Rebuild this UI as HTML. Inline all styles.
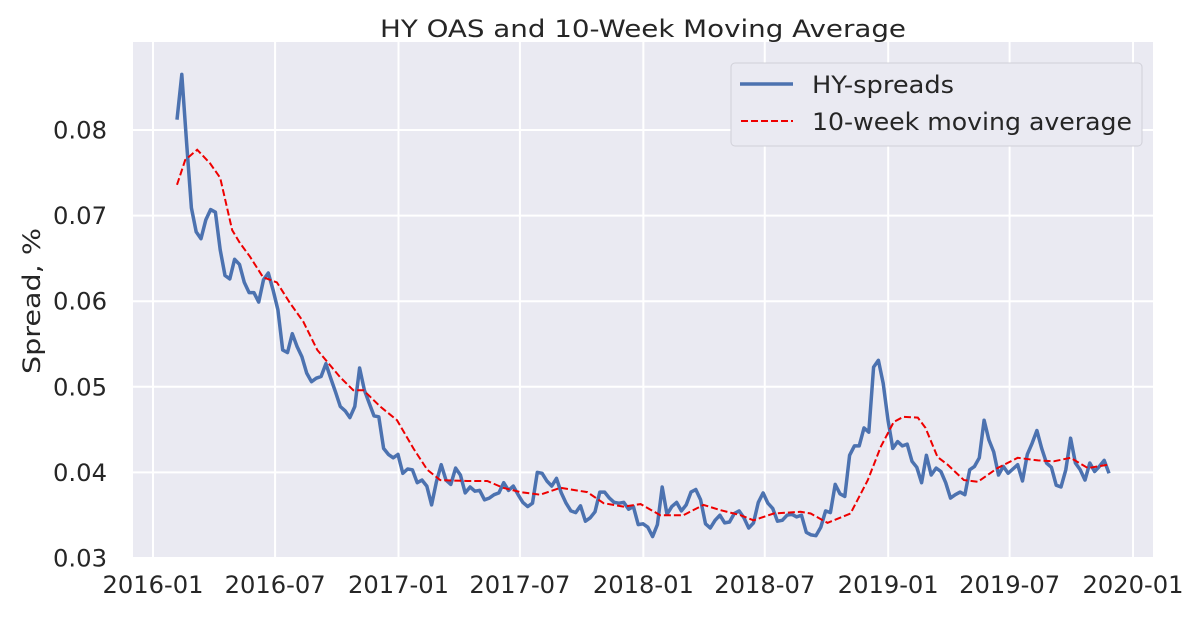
<!DOCTYPE html>
<html><head><meta charset="utf-8"><style>
body{margin:0;background:#fff}
svg text{font-family:"DejaVu Sans","Liberation Sans",sans-serif;fill:#262626}
</style></head><body>
<svg id="c" width="1200" height="624"></svg>
<script>
const hyValues=[0.0812,0.0865,0.0785,0.0709,0.0681,0.0673,0.0695,0.0707,0.0704,0.066,0.063,0.0626,0.0649,0.0643,0.0622,0.061,0.061,0.0599,0.0625,0.0633,0.0613,0.059,0.0543,0.054,0.0562,0.0547,0.0535,0.0516,0.0506,0.051,0.0512,0.0527,0.051,0.0494,0.0477,0.0472,0.0464,0.0477,0.0522,0.0496,0.0481,0.0466,0.0465,0.0428,0.0421,0.0417,0.0421,0.0399,0.0404,0.0403,0.0388,
0.0391,0.0384,0.0362,0.0389,0.0409,0.0391,0.0386,0.0405,0.0397,0.0376,0.0383,0.0378,0.0379,0.0368,0.037,0.0374,0.0376,0.0388,0.0379,0.0384,0.0374,0.0365,0.036,0.0364,0.040,0.0399,0.039,0.0384,0.0393,0.0376,0.0364,0.0355,0.0353,0.0361,0.0343,0.0347,0.0354,0.0377,0.0377,0.037,0.0365,0.0364,0.0365,0.0357,0.036,0.0339,0.034,0.0336,0.0325,0.0339,0.0383,0.0351,0.036,0.0365,0.0355,0.0362,0.0377,0.038,0.0368,0.034,0.0335,0.0344,0.035,0.0341,0.0342,0.0352,0.0355,0.0347,0.0335,0.0341,0.0365,0.0376,0.0364,0.0358,0.0343,0.0344,0.035,0.0351,0.0348,
0.035,0.033,0.0327,0.0326,0.0336,0.0355,0.0353,0.0386,0.0375,0.0372,0.042,0.0431,0.0431,0.0452,0.0447,0.0523,0.0531,0.0504,0.0461,0.0428,0.0436,0.0431,0.0433,0.0413,0.0406,0.0388,0.042,0.0397,0.0405,0.0401,0.0388,0.037,0.0374,0.0377,0.0374,0.0403,0.0407,0.0417,0.0461,0.0438,0.0424,0.0397,0.0407,0.0399,0.0404,0.0409,0.039,0.0421,0.0434,0.0449,0.0428,0.0411,0.0406,0.0385,0.0383,0.0403,0.044,0.0411,0.0403,0.0391,0.0411,0.0401,0.0407,0.0414,0.0399];
const maWeeks=[0,1.7,4.2,6.9,9,11.5,13.1,15.2,17.9,20.8,23.5,26.3,29.2,31.3,34,36.7,38.8,42.3,45.8,49.2,52.1,54.8,60.4,64.6,67.9,71.5,75.6,79.8,85.4,88.8,92.9,96.5,100.6,105.4,109.6,113.1,117.3,120,124.2,129.8,131.9,135.4,140.2,143.8,146.5,149.2,151.2,154.2,155.8,158.3,160.4,163.8,166.7,170.8,175,179.2,182.5,186,189.6,193.8];
const maValues=[0.0736,0.0765,0.0777,0.0761,0.0744,0.0683,0.0668,0.0652,0.0628,0.0622,0.0598,0.0576,0.0543,0.0529,0.0511,0.0496,0.0496,0.0477,0.0461,0.0428,0.0403,0.0391,0.039,0.039,0.0382,0.0377,0.0374,0.0382,0.0377,0.0364,0.036,0.0363,0.035,0.035,0.0362,0.0356,0.035,0.0344,0.0352,0.0354,0.0352,0.0341,0.0352,0.0391,0.043,0.0459,0.0465,0.0464,0.0452,0.0418,0.0409,0.0391,0.0389,0.0405,0.0417,0.0414,0.0413,0.0417,0.0405,0.0409];
const yTicks=[0.03,0.04,0.05,0.06,0.07,0.08];
const xTickLabels=["2016-01","2016-07","2017-01","2017-07","2018-01","2018-07","2019-01","2019-07","2020-01"];
const xTickDays=[0,182,366,547,731,912,1096,1277,1461];

const NS="http://www.w3.org/2000/svg",svg=document.getElementById('c');
function el(t,a,p){const e=document.createElementNS(NS,t);for(const k in a)e.setAttribute(k,a[k]);(p||svg).appendChild(e);return e;}
const L=133,R=1153,T=42,B=558;
const y=v=>558-(v-0.03)*8560;
const xd=d=>153+d*0.6708;
const nW=hyValues.length;
const xw=w=>177+w*(932/(nW-1));
let e=el('rect',{x:L,y:T,width:R-L,height:B-T,fill:'#eaeaf2'});

yTicks.forEach(v=>{
 e=el('line',{x1:L,x2:R,y1:y(v),y2:y(v),stroke:'#fff','stroke-width':2});
 
 e=el('text',{x:107,y:y(v)+8.5,'text-anchor':'end','font-size':24,textLength:54,lengthAdjust:'spacingAndGlyphs'});e.textContent=v.toFixed(2);
 
});
xTickDays.forEach((d,i)=>{
 e=el('line',{x1:xd(d),x2:xd(d),y1:T,y2:B,stroke:'#fff','stroke-width':2});
 
 e=el('text',{x:xd(d),y:593,'text-anchor':'middle','font-size':24,textLength:101,lengthAdjust:'spacingAndGlyphs'});e.textContent=xTickLabels[i];
 
});
e=el('path',{d:hyValues.map((v,i)=>(i?'L':'M')+xw(i).toFixed(1)+' '+y(v).toFixed(1)).join(''),fill:'none',stroke:'#4c72b0','stroke-width':3.5,'stroke-linejoin':'round'});

const m=Math.min(maWeeks.length,maValues.length);
let dp='';for(let i=0;i<m;i++)dp+=(i?'L':'M')+xw(maWeeks[i]).toFixed(1)+' '+y(maValues[i]).toFixed(1);
e=el('path',{d:dp,fill:'none',stroke:'#e00','stroke-width':2,'stroke-dasharray':'7,3'});

e=el('text',{x:643,y:37,'text-anchor':'middle','font-size':24,textLength:526,lengthAdjust:'spacingAndGlyphs'});e.textContent='HY OAS and 10-Week Moving Average';

e=el('text',{x:40,y:301,'text-anchor':'middle','font-size':24,textLength:146,lengthAdjust:'spacingAndGlyphs',transform:'rotate(-90 40 301)'});e.textContent='Spread, %';

const g=el('g',{});
el('rect',{x:731,y:63,width:411,height:83,rx:4,fill:'#eaeaf2',stroke:'#d0d0d8','stroke-width':1},g);
e=el('line',{x1:740,x2:793,y1:84,y2:84,stroke:'#4c72b0','stroke-width':3.5},g);

e=el('text',{x:812,y:93,'font-size':24,textLength:142,lengthAdjust:'spacingAndGlyphs'},g);e.textContent='HY-spreads';

e=el('line',{x1:741,x2:793,y1:121,y2:121,stroke:'#e00','stroke-width':2,'stroke-dasharray':'7,3'},g);

e=el('text',{x:812,y:130,'font-size':24,textLength:320,lengthAdjust:'spacingAndGlyphs'},g);e.textContent='10-week moving average';

</script>
</body></html>
